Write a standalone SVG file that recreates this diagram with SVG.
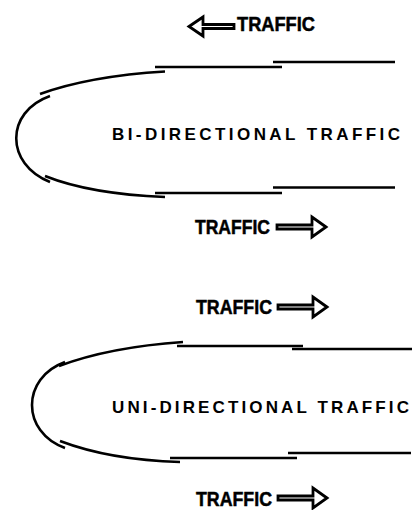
<svg xmlns="http://www.w3.org/2000/svg" width="412" height="510" viewBox="0 0 412 510">
<style>
.ln{fill:none;stroke:#000;stroke-width:2.6;stroke-linecap:butt}
.arr{fill:#fff;stroke:#000;stroke-width:2.8;stroke-linejoin:miter}
.lbl{font-family:"Liberation Sans",Arial,sans-serif;font-weight:bold;font-size:20px;fill:#000;stroke:#000;stroke-width:0.5}
.big{font-family:"Liberation Sans",Arial,sans-serif;font-weight:bold;font-size:17px;fill:#000}
</style>
<rect width="412" height="510" fill="#fff"/>
<g id="bi-directional">
  <g id="bi-top-label">
    <polygon class="arr" points="189,26.5 203,17 203,24.5 234,24.5 234,28.5 203,28.5 203,36"/>
    <text class="lbl" x="237" y="31" textLength="78" lengthAdjust="spacingAndGlyphs">TRAFFIC</text>
  </g>
  <g id="bi-road">
    <path class="ln" d="M155,67 H282"/>
    <path class="ln" d="M273,62 H395"/>
    <path class="ln" d="M40,94 Q90,76 165,71.5"/>
    <path class="ln" d="M50,96 C5,112 5,164 50,182"/>
    <path class="ln" d="M45,176 Q90,194 165,197"/>
    <path class="ln" d="M155,193 H282"/>
    <path class="ln" d="M273,187.5 H395"/>
  </g>
  <g id="bi-title">
    <text class="big" x="112" y="140" textLength="288" lengthAdjust="spacing">BI-DIRECTIONAL TRAFFIC</text>
  </g>
  <g id="bi-bottom-label">
    <text class="lbl" x="195" y="234" textLength="75" lengthAdjust="spacingAndGlyphs">TRAFFIC</text>
    <polygon class="arr" points="326,227 312,217 312,225 277,225 277,229 312,229 312,237"/>
  </g>
</g>
<g id="uni-directional">
  <g id="uni-top-label">
    <text class="lbl" x="196" y="314" textLength="76" lengthAdjust="spacingAndGlyphs">TRAFFIC</text>
    <polygon class="arr" points="327,307 313,297 313,305 278,305 278,309 313,309 313,317"/>
  </g>
  <g id="uni-road">
    <path class="ln" d="M177,346 H303"/>
    <path class="ln" d="M292,349 H412"/>
    <path class="ln" d="M59,366 Q110,347 183,342"/>
    <path class="ln" d="M65,362 C21,378 21,432 65,448"/>
    <path class="ln" d="M60,441 Q110,460 180,462"/>
    <path class="ln" d="M170,458 H297"/>
    <path class="ln" d="M288,453 H411"/>
  </g>
  <g id="uni-title">
    <text class="big" x="112" y="413" textLength="297" lengthAdjust="spacing">UNI-DIRECTIONAL TRAFFIC</text>
  </g>
  <g id="uni-bottom-label">
    <text class="lbl" x="196" y="506" textLength="76" lengthAdjust="spacingAndGlyphs">TRAFFIC</text>
    <polygon class="arr" points="327,498 313,488 313,496 278,496 278,500 313,500 313,508"/>
  </g>
</g>
</svg>
